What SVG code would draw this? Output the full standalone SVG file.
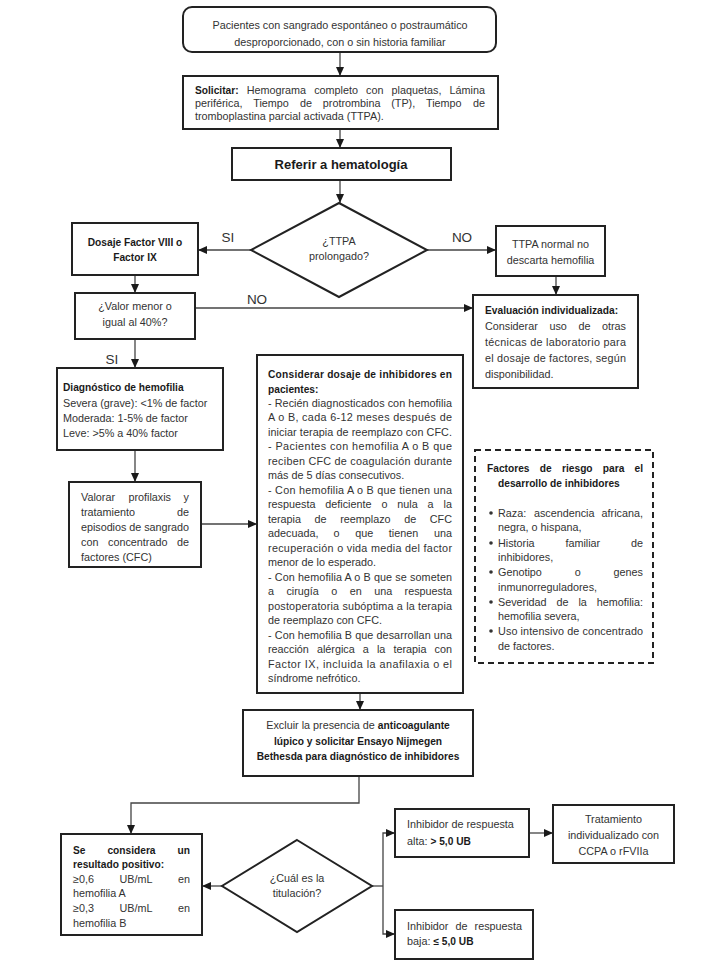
<svg xmlns="http://www.w3.org/2000/svg" width="708" height="966" viewBox="0 0 708 966">
<defs>
<marker id="ah" markerWidth="9" markerHeight="8" refX="9" refY="4" orient="auto" markerUnits="userSpaceOnUse"><path d="M0,0 L9,4 L0,8 z" fill="#1a1a1a"/></marker>
</defs>
<style>
.box{fill:#fff;stroke:#222;stroke-width:2}
.dash{fill:#fff;stroke:#222;stroke-width:2;stroke-dasharray:6 4}
.t{font-family:"Liberation Sans",Arial,sans-serif;font-size:10.8px;fill:#333}
.b{font-family:"Liberation Sans",Arial,sans-serif;font-size:10.2px;font-weight:bold;fill:#1a1a1a}
.c{text-anchor:middle}
.e{text-anchor:end}
.lbl{font-family:"Liberation Sans",Arial,sans-serif;font-size:13.5px;fill:#333;text-anchor:middle}
.big{font-family:"Liberation Sans",Arial,sans-serif;font-size:13px;font-weight:bold;fill:#1a1a1a;text-anchor:middle}
.con{fill:none;stroke:#444;stroke-width:1.3}
.dot{fill:#333}
</style>
<rect width="708" height="966" fill="#fff"/>

<g id="connectors">
<line class="con" x1="340" y1="52" x2="340" y2="76" marker-end="url(#ah)"/>
<line class="con" x1="340" y1="129" x2="340" y2="148" marker-end="url(#ah)"/>
<line class="con" x1="340" y1="180" x2="340" y2="203" marker-end="url(#ah)"/>
<line class="con" x1="251" y1="250" x2="198" y2="250" marker-end="url(#ah)"/>
<line class="con" x1="427" y1="250" x2="496" y2="250" marker-end="url(#ah)"/>
<line class="con" x1="135" y1="275" x2="135" y2="293" marker-end="url(#ah)"/>
<line class="con" x1="556" y1="276" x2="556" y2="295" marker-end="url(#ah)"/>
<line class="con" x1="195" y1="308" x2="473" y2="308" marker-end="url(#ah)"/>
<line class="con" x1="135" y1="339" x2="135" y2="368" marker-end="url(#ah)"/>
<line class="con" x1="135" y1="450" x2="135" y2="482" marker-end="url(#ah)"/>
<line class="con" x1="201" y1="524" x2="257" y2="524" marker-end="url(#ah)"/>
<line class="con" x1="360" y1="693" x2="360" y2="710" marker-end="url(#ah)"/>
<polyline class="con" points="359,776 359,803 131,803 131,834" marker-end="url(#ah)"/>
<line class="con" x1="222" y1="886" x2="202" y2="886" marker-end="url(#ah)"/>
<line class="con" x1="372" y1="886" x2="383" y2="886"/>
<polyline class="con" points="383,886 383,833 395,833" marker-end="url(#ah)"/>
<polyline class="con" points="383,886 383,934 395,934" marker-end="url(#ah)"/>
<line class="con" x1="529" y1="833" x2="553" y2="833" marker-end="url(#ah)"/>
<text class="lbl" x="228" y="242">SI</text>
<text class="lbl" x="462" y="242">NO</text>
<text class="lbl" x="257" y="304">NO</text>
<text class="lbl" x="112" y="364">SI</text>
</g>

<g id="n1">
<rect class="box" x="183" y="7" width="313" height="45" rx="9"/>
<text class="t c" x="340" y="28.5">Pacientes con sangrado espontáneo o postraumático</text>
<text class="t c" x="340" y="45.5">desproporcionado, con o sin historia familiar</text>
</g>

<g id="n2">
<rect class="box" x="183" y="76" width="315" height="53"/>
<text class="b" x="195" y="93.5">Solicitar:</text>
<text class="t" x="246.7" y="93.5">Hemograma</text>
<text class="t" x="314.2" y="93.5">completo</text>
<text class="t" x="366.1" y="93.5">con</text>
<text class="t" x="391.6" y="93.5">plaquetas,</text>
<text class="t e" x="485" y="93.5">Lámina</text>
<text class="t" x="195" y="106.5">periférica,</text>
<text class="t" x="253.2" y="106.5">Tiempo</text>
<text class="t" x="300" y="106.5">de</text>
<text class="t" x="322.8" y="106.5">protrombina</text>
<text class="t" x="391.2" y="106.5">(TP),</text>
<text class="t" x="426" y="106.5">Tiempo</text>
<text class="t e" x="485" y="106.5">de</text>
<text class="t" x="195" y="119.5">tromboplastina parcial activada (TTPA).</text>
</g>

<g id="n3">
<rect class="box" x="232" y="148" width="219" height="32"/>
<text class="big" x="341" y="168.5">Referir a hematología</text>
</g>

<g id="d1">
<polygon class="box" points="339,203 427,250 339,297 251,250"/>
<text class="t c" x="339" y="245">¿TTPA</text>
<text class="t c" x="339" y="260">prolongado?</text>
</g>

<g id="n4">
<rect class="box" x="72" y="223" width="126" height="52"/>
<text class="b c" x="135" y="245.5">Dosaje Factor VIII o</text>
<text class="b c" x="135" y="260.5">Factor IX</text>
</g>

<g id="n5">
<rect class="box" x="496" y="226" width="109" height="50"/>
<text class="t c" x="550.5" y="248">TTPA normal no</text>
<text class="t c" x="550.5" y="263.5">descarta hemofilia</text>
</g>

<g id="n6">
<rect class="box" x="75" y="293" width="120" height="46"/>
<text class="t c" x="135" y="309.5">¿Valor menor o</text>
<text class="t c" x="135" y="326">igual al 40%?</text>
</g>

<g id="n7">
<rect class="box" x="473" y="295" width="165" height="93"/>
<text class="b" x="485" y="314">Evaluación individualizada:</text>
<text class="t" x="485" y="330">Considerar</text>
<text class="t" x="549.4" y="330">uso</text>
<text class="t" x="578.4" y="330">de</text>
<text class="t e" x="626" y="330">otras</text>
<text class="t" x="485" y="346" textLength="141" lengthAdjust="spacing">técnicas de laboratorio para</text>
<text class="t" x="485" y="362" textLength="141" lengthAdjust="spacing">el dosaje de factores, según</text>
<text class="t" x="485" y="377.5">disponibilidad.</text>
</g>

<g id="n8">
<rect class="box" x="57" y="368" width="166" height="82"/>
<text class="b" x="63" y="391">Diagnóstico de hemofilia</text>
<text class="t" x="63" y="407">Severa (grave): &lt;1% de factor</text>
<text class="t" x="63" y="422">Moderada: 1-5% de factor</text>
<text class="t" x="63" y="437">Leve: &gt;5% a 40% factor</text>
</g>

<g id="n9">
<rect class="box" x="69" y="482" width="132" height="85"/>
<text class="t" x="81" y="500.5">Valorar</text>
<text class="t" x="128.4" y="500.5">profilaxis</text>
<text class="t e" x="189" y="500.5">y</text>
<text class="t" x="81" y="515.5">tratamiento</text>
<text class="t e" x="189" y="515.5">de</text>
<text class="t" x="81" y="530.5" textLength="108" lengthAdjust="spacing">episodios de sangrado</text>
<text class="t" x="81" y="545.5">con</text>
<text class="t" x="108" y="545.5">concentrado</text>
<text class="t e" x="189" y="545.5">de</text>
<text class="t" x="81" y="560.5">factores (CFC)</text>
</g>

<g id="n10">
<rect class="box" x="257" y="355" width="206" height="338"/>
<text class="b" x="268" y="378" textLength="184" lengthAdjust="spacing">Considerar dosaje de inhibidores en</text>
<text class="b" x="268" y="392.5">pacientes:</text>
<text class="t" x="268" y="407" textLength="184" lengthAdjust="spacing">- Recién diagnosticados con hemofilia</text>
<text class="t" x="268" y="421.4" textLength="184" lengthAdjust="spacing">A o B, cada 6-12 meses después de</text>
<text class="t" x="268" y="435.9" textLength="184" lengthAdjust="spacing">iniciar terapia de reemplazo con CFC.</text>
<text class="t" x="268" y="450.4" textLength="184" lengthAdjust="spacing">- Pacientes con hemofilia A o B que</text>
<text class="t" x="268" y="464.9" textLength="184" lengthAdjust="spacing">reciben CFC de coagulación durante</text>
<text class="t" x="268" y="479.3">más de 5 días consecutivos.</text>
<text class="t" x="268" y="493.8" textLength="184" lengthAdjust="spacing">- Con hemofilia A o B que tienen una</text>
<text class="t" x="268" y="508.3">respuesta</text>
<text class="t" x="325.3" y="508.3">deficiente</text>
<text class="t" x="381.4" y="508.3">o</text>
<text class="t" x="397.3" y="508.3">nula</text>
<text class="t" x="427.6" y="508.3">a</text>
<text class="t e" x="452" y="508.3">la</text>
<text class="t" x="268" y="522.8">terapia</text>
<text class="t" x="314.6" y="522.8">de</text>
<text class="t" x="340.2" y="522.8">reemplazo</text>
<text class="t" x="404.2" y="522.8">de</text>
<text class="t e" x="452" y="522.8">CFC</text>
<text class="t" x="268" y="537.2">adecuada,</text>
<text class="t" x="333.6" y="537.2">o</text>
<text class="t" x="355.2" y="537.2">que</text>
<text class="t" x="388.8" y="537.2">tienen</text>
<text class="t e" x="452" y="537.2">una</text>
<text class="t" x="268" y="551.7" textLength="184" lengthAdjust="spacing">recuperación o vida media del factor</text>
<text class="t" x="268" y="566.2">menor de lo esperado.</text>
<text class="t" x="268" y="580.7" textLength="184" lengthAdjust="spacing">- Con hemofilia A o B que se someten</text>
<text class="t" x="268" y="595.1">a</text>
<text class="t" x="286.4" y="595.1">cirugía</text>
<text class="t" x="331.3" y="595.1">o</text>
<text class="t" x="349.7" y="595.1">en</text>
<text class="t" x="374.2" y="595.1">una</text>
<text class="t e" x="452" y="595.1">respuesta</text>
<text class="t" x="268" y="609.6" textLength="184" lengthAdjust="spacing">postoperatoria subóptima a la terapia</text>
<text class="t" x="268" y="624.1">de reemplazo con CFC.</text>
<text class="t" x="268" y="638.6" textLength="184" lengthAdjust="spacing">- Con hemofilia B que desarrollan una</text>
<text class="t" x="268" y="653">reacción</text>
<text class="t" x="316.9" y="653">alérgica</text>
<text class="t" x="362.8" y="653">a</text>
<text class="t" x="376.9" y="653">la</text>
<text class="t" x="393.4" y="653">terapia</text>
<text class="t e" x="452" y="653">con</text>
<text class="t" x="268" y="667.5" textLength="184" lengthAdjust="spacing">Factor IX, incluida la anafilaxia o el</text>
<text class="t" x="268" y="682">síndrome nefrótico.</text>
</g>

<g id="n11">
<rect class="dash" x="475" y="450" width="178" height="213"/>
<text class="b" x="487" y="471.5">Factores</text>
<text class="b" x="539.7" y="471.5">de</text>
<text class="b" x="562" y="471.5">riesgo</text>
<text class="b" x="602.8" y="471.5">para</text>
<text class="b e" x="643" y="471.5">el</text>
<text class="b" x="498" y="486.5">desarrollo de inhibidores</text>
<circle class="dot" cx="491" cy="513" r="1.8"/>
<text class="t" x="498" y="516.5">Raza:</text>
<text class="t" x="533.9" y="516.5">ascendencia</text>
<text class="t e" x="643" y="516.5">africana,</text>
<text class="t" x="498" y="531">negra, o hispana,</text>
<circle class="dot" cx="491" cy="543" r="1.8"/>
<text class="t" x="498" y="546.5">Historia</text>
<text class="t" x="565.4" y="546.5">familiar</text>
<text class="t e" x="643" y="546.5">de</text>
<text class="t" x="498" y="561">inhibidores,</text>
<circle class="dot" cx="491" cy="572" r="1.8"/>
<text class="t" x="498" y="575.5">Genotipo</text>
<text class="t" x="574.7" y="575.5">o</text>
<text class="t e" x="643" y="575.5">genes</text>
<text class="t" x="498" y="590.5">inmunorreguladores,</text>
<circle class="dot" cx="491" cy="602" r="1.8"/>
<text class="t" x="498" y="605.5">Severidad</text>
<text class="t" x="556.5" y="605.5">de</text>
<text class="t" x="578.4" y="605.5">la</text>
<text class="t e" x="643" y="605.5">hemofilia:</text>
<text class="t" x="498" y="620">hemofilia severa,</text>
<circle class="dot" cx="491" cy="631" r="1.8"/>
<text class="t" x="498" y="634.5" textLength="145" lengthAdjust="spacing">Uso intensivo de concentrado</text>
<text class="t" x="498" y="649.5">de factores.</text>
</g>

<g id="n12">
<rect class="box" x="243" y="710" width="230" height="66"/>
<text class="t c" x="358" y="728.5">Excluir la presencia de <tspan class="b">anticoagulante</tspan></text>
<text class="b c" x="358" y="744.5">lúpico y solicitar Ensayo Nijmegen</text>
<text class="b c" x="358" y="759.5">Bethesda para diagnóstico de inhibidores</text>
</g>

<g id="n13">
<rect class="box" x="61" y="834" width="141" height="101"/>
<text class="b" x="73" y="853.5">Se</text>
<text class="b" x="107.4" y="853.5">considera</text>
<text class="b e" x="190" y="853.5">un</text>
<text class="b" x="73" y="867.5">resultado positivo:</text>
<text class="t" x="73" y="882.5">≥0,6</text>
<text class="t" x="119.4" y="882.5">UB/mL</text>
<text class="t e" x="190" y="882.5">en</text>
<text class="t" x="73" y="896.5">hemofilia A</text>
<text class="t" x="73" y="911.5">≥0,3</text>
<text class="t" x="119.4" y="911.5">UB/mL</text>
<text class="t e" x="190" y="911.5">en</text>
<text class="t" x="73" y="926.5">hemofilia B</text>
</g>

<g id="d2">
<polygon class="box" points="297,840 372,886 297,932 222,886"/>
<text class="t c" x="297" y="881.5">¿Cuál es la</text>
<text class="t c" x="297" y="896.5">titulación?</text>
</g>

<g id="n14">
<rect class="box" x="395" y="809" width="134" height="48"/>
<text class="t" x="407" y="827.5">Inhibidor de respuesta</text>
<text class="t" x="407" y="844.5">alta: <tspan class="b">&gt; 5,0 UB</tspan></text>
</g>

<g id="n15">
<rect class="box" x="553" y="805" width="121" height="58"/>
<text class="t c" x="613.5" y="822.5">Tratamiento</text>
<text class="t c" x="613.5" y="838.5">individualizado con</text>
<text class="t c" x="613.5" y="854.5">CCPA o rFVIIa</text>
</g>

<g id="n16">
<rect class="box" x="395" y="910" width="138" height="49"/>
<text class="t" x="407" y="929.5">Inhibidor</text>
<text class="t" x="455.5" y="929.5">de</text>
<text class="t e" x="522" y="929.5">respuesta</text>
<text class="t" x="407" y="944.5">baja: <tspan class="b">≤ 5,0 UB</tspan></text>
</g>
</svg>
